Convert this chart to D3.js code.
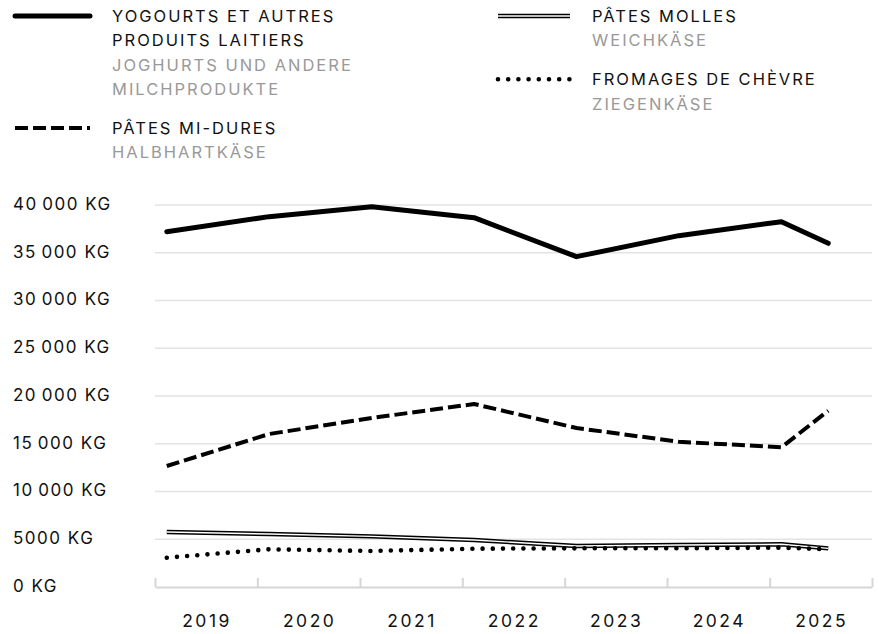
<html>
<head>
  <script src="https://cdn.jsdelivr.net/npm/d3@7"></script>
  <style>
    body { margin: 0; background: #fff; }
    text { font-family: Inter, "Noto Sans", sans-serif; }
  </style>
</head>
<body>
  <script>
    // data
    var years = ["2019", "2020", "2021", "2022", "2023", "2024", "2025"];
    var dates = ["2019-02-12", "2020-02-12", "2021-02-12", "2022-02-12", "2023-02-12", "2024-02-12", "2025-02-12", "2025-07-29"];
    var yogurt = [37200, 38780, 39820, 38670, 34590, 36790, 38250, 35990];
    var midHard = [12670, 16020, 17700, 19160, 16650, 15210, 14630, 18460];
    var soft = [5760, 5550, 5300, 4920, 4290, 4400, 4470, 4050];
    var goat = [3070, 3950, 3770, 4010, 4050, 4050, 4120, 3950];
    var yTicks = [0, 5000, 10000, 15000, 20000, 25000, 30000, 35000, 40000];
    var yTickLabels = ["0 KG", "5000 KG", "10\u202F000 KG", "15\u202F000 KG", "20\u202F000 KG", "25\u202F000 KG", "30\u202F000 KG", "35\u202F000 KG", "40\u202F000 KG"];
    var legendFr = [["YOGOURTS ET AUTRES", "PRODUITS LAITIERS"], ["PÂTES MI-DURES"], ["PÂTES MOLLES"], ["FROMAGES DE CHÈVRE"]];
    var legendDe = [["JOGHURTS UND ANDERE", "MILCHPRODUKTE"], ["HALBHARTKÄSE"], ["WEICHKÄSE"], ["ZIEGENKÄSE"]];

    var width = 879,
    height = 634;

    var svg = d3.select( "body" )
      .append( "svg" )
      .attr( "width", width )
      .attr( "height", height );

    var parse = d3.utcParse("%Y-%m-%d");

    var x = d3.scaleUtc()
      .domain( [ new Date(Date.UTC(2019, 0, 1)), new Date(Date.UTC(2026, 0, 1)) ] )
      .range( [155, 872] );

    var y = d3.scaleLinear()
      .domain( [0, 40000] )
      .range( [587, 205] );

    // grid
    svg.append("g").selectAll("line")
      .data(yTicks.filter(function(d){ return d > 0; }))
      .enter().append("line")
      .attr("x1", 155).attr("x2", 872)
      .attr("y1", function(d){ return y(d); })
      .attr("y2", function(d){ return y(d); })
      .attr("stroke", "#e3e3e3")
      .attr("stroke-width", 1.5);

    // y labels
    svg.append("g").selectAll("text")
      .data(yTicks)
      .enter().append("text")
      .attr("x", 13)
      .attr("y", function(d){ return y(d) - 1; })
      .attr("dy", "0.35em")
      .attr("font-size", 17)
      .attr("letter-spacing", 1.5)
      .attr("fill", "#111")
      .text(function(d, i){ return yTickLabels[i]; });

    // x axis: ticks on the year boundaries, labels in the middle
    var bounds = d3.range(2019, 2027).map(function(yr){ return new Date(Date.UTC(yr, 0, 1)); });
    var xAxis = svg.append("g")
      .attr("transform", "translate(0,587)")
      .call(d3.axisBottom(x).tickValues(bounds).tickSizeInner(-9).tickSizeOuter(0).tickFormat(""));
    xAxis.select(".domain").attr("stroke", "#d6d6d6").attr("stroke-width", 2);
    xAxis.selectAll(".tick line").attr("stroke", "#d6d6d6").attr("stroke-width", 2);

    svg.append("g").selectAll("text")
      .data(years)
      .enter().append("text")
      .attr("x", function(d){ return x(new Date(Date.UTC(+d, 6, 2))) + 1; })
      .attr("y", 626.5)
      .attr("text-anchor", "middle")
      .attr("font-size", 17.5)
      .attr("letter-spacing", 2.5)
      .attr("fill", "#111")
      .text(function(d){ return d; });

    var line = d3.line()
      .x(function(d, i){ return x(parse(dates[i])); })
      .y(function(d){ return y(d); });

    var styles = [
      { data: yogurt, layers: [ { stroke: "#000", w: 5, cap: "round" } ] },
      { data: midHard, layers: [ { stroke: "#000", w: 4, dash: "13 5" } ] },
      { data: soft, layers: [ { stroke: "#000", w: 4.4 }, { stroke: "#fff", w: 1.4 } ] },
      { data: goat, layers: [ { stroke: "#000", w: 4.6, dash: "0 10.2", cap: "round" } ] }
    ];

    function drawLayers(g, layers, fn) {
      layers.forEach(function(l){
        fn(g.append("path"))
          .attr("fill", "none")
          .attr("stroke", l.stroke)
          .attr("stroke-width", l.w)
          .attr("stroke-linecap", l.cap || "butt")
          .attr("stroke-linejoin", "round")
          .attr("stroke-dasharray", l.dash || null);
      });
    }

    var lines = svg.append("g");
    styles.forEach(function(s){
      drawLayers(lines, s.layers, function(p){ return p.datum(s.data).attr("d", line); });
    });

    // legend
    var legend = svg.append("g");
    var cols = [ { x: 15, items: [0, 1] }, { x: 498, items: [2, 3] } ];
    var lineH = 24.3;
    cols.forEach(function(c){
      var base = 22;
      c.items.forEach(function(k){
        var g = legend.append("g");
        var len = c.x === 15 ? 75 : 72;
        drawLayers(g, styles[k].layers, function(p){
          return p.attr("d", "M" + c.x + "," + (base - 6) + "h" + len);
        });
        var rows = legendFr[k].map(function(t){ return { t: t, c: "#111" }; })
          .concat(legendDe[k].map(function(t){ return { t: t, c: "#999" }; }));
        g.selectAll("text")
          .data(rows)
          .enter().append("text")
          .attr("x", c.x + len + 22)
          .attr("y", function(d, i){ return base + i * lineH; })
          .attr("font-size", 16.5)
          .attr("letter-spacing", 2)
          .attr("fill", function(d){ return d.c; })
          .text(function(d){ return d.t; });
        base += (rows.length - 1) * lineH + 39;
      });
    });
  </script>
</body>
</html>
